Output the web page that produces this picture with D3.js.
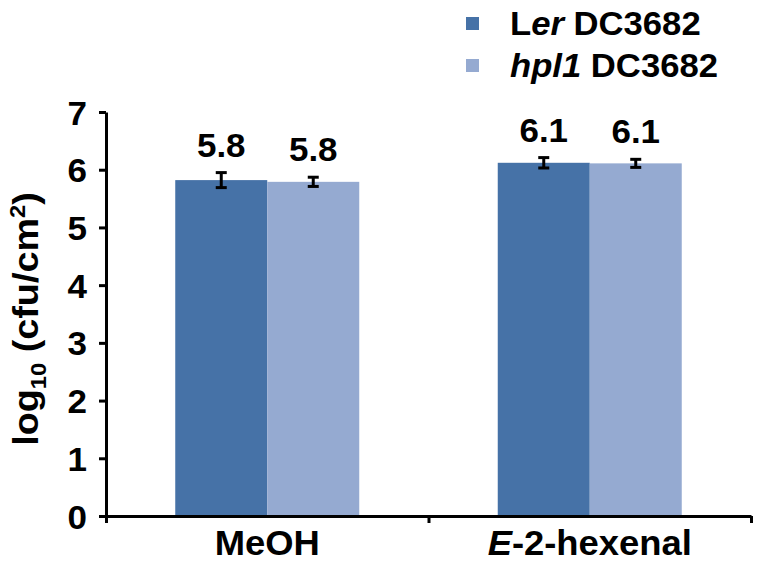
<!DOCTYPE html>
<html><head><meta charset="utf-8">
<script src="https://cdn.jsdelivr.net/npm/d3@7"></script>
<style>
html,body{margin:0;padding:0;background:#fff;}
text{font-family:"Liberation Sans",Arial,sans-serif;font-weight:bold;fill:#000;}
</style></head>
<body>
<svg id="chart" width="764" height="566"></svg>
<script>
const categories = ["MeOH", "E-2-hexenal"];
const seriesNames = ["Ler DC3682", "hpl1 DC3682"];
const serLer = [5.82, 6.12];
const serHpl = [5.79, 6.11];
const errLer = [0.13, 0.09];
const errHpl = [0.08, 0.07];
const valueLabels = [["5.8", "6.1"], ["5.8", "6.1"]];
const yTicks = [0, 1, 2, 3, 4, 5, 6, 7];
const colors = ["#4672a7", "#95aad1"];

(function () {
const svg = d3.select("#chart");
const mLeft = 106, mRight = 751, mTop = 112, mBottom = 516;
const y = d3.scaleLinear().domain([0, 7]).range([mBottom, mTop]);
const x0 = d3.scaleBand().domain(categories).range([mLeft, mRight]).paddingInner(0).paddingOuter(0);
const groupW = 184;
const x1 = d3.scaleBand().domain([0, 1]).range([0, groupW]);
const series = [serLer, serHpl];
const errs = [errLer, errHpl];

// bars
series.forEach((vals, s) => {
  svg.append("g").selectAll("rect").data(vals).join("rect")
    .attr("x", (d, i) => x0(categories[i]) + (x0.bandwidth() - groupW) / 2 + x1(s))
    .attr("width", x1.bandwidth())
    .attr("y", d => y(d))
    .attr("height", d => y(0) - y(d))
    .attr("fill", colors[s]);
});

// error bars + labels
series.forEach((vals, s) => {
  vals.forEach((v, i) => {
    const cx = x0(categories[i]) + (x0.bandwidth() - groupW) / 2 + x1(s) + x1.bandwidth() / 2;
    const e = errs[s][i];
    const g = svg.append("g").attr("stroke", "#000").attr("stroke-width", 3);
    g.append("line").attr("x1", cx).attr("x2", cx).attr("y1", y(v + e)).attr("y2", y(v - e));
    g.append("line").attr("x1", cx - 5.5).attr("x2", cx + 5.5).attr("y1", y(v + e)).attr("y2", y(v + e));
    g.append("line").attr("x1", cx - 5.5).attr("x2", cx + 5.5).attr("y1", y(v - e)).attr("y2", y(v - e));
    svg.append("text")
      .attr("transform", `translate(${cx},${y(v + e) - 16}) scale(1.06,1)`)
      .attr("text-anchor", "middle").attr("font-size", 33)
      .text(valueLabels[s][i]);
  });
});

// y axis
const yAxis = svg.append("g").attr("transform", `translate(${mLeft},0)`)
  .call(d3.axisLeft(y).tickValues(yTicks).tickSize(7).tickSizeOuter(0).tickFormat(d3.format("d")));
yAxis.attr("font-family", null).attr("font-size", null);
yAxis.select(".domain").attr("stroke", "#000").attr("stroke-width", 3);
yAxis.selectAll(".tick line").attr("stroke", "#000").attr("stroke-width", 3);
yAxis.selectAll(".tick text")
  .attr("x", null).attr("dy", null).attr("fill", "#000")
  .attr("font-size", 34).attr("text-anchor", "end")
  .attr("transform", `translate(-19,12) scale(1.03,1)`);

// x axis
const xl = d3.scaleLinear().domain([0, categories.length]).range([mLeft, mRight]);
const xAxis = svg.append("g").attr("transform", `translate(0,${mBottom})`)
  .call(d3.axisBottom(xl).tickValues(d3.range(categories.length + 1)).tickSize(7).tickSizeOuter(0).tickFormat(""));
xAxis.select(".domain").attr("stroke", "#000").attr("stroke-width", 3);
xAxis.selectAll(".tick line").attr("stroke", "#000").attr("stroke-width", 3);

categories.forEach((c, i) => {
  const cx = x0(c) + x0.bandwidth() / 2;
  const t = svg.append("text")
    .attr("transform", `translate(${cx},555) scale(1.04,1)`)
    .attr("text-anchor", "middle").attr("font-size", 35);
  if (c.startsWith("E-")) {
    t.append("tspan").attr("font-style", "italic").text("E");
    t.append("tspan").text(c.slice(1));
  } else {
    t.text(c);
  }
});

// y title
const yt = svg.append("text")
  .attr("transform", `translate(38,319) rotate(-90) scale(1.08,1)`)
  .attr("text-anchor", "middle").attr("font-size", 35);
yt.append("tspan").text("log");
yt.append("tspan").attr("font-size", 22).attr("dy", 8).text("10");
yt.append("tspan").attr("dy", -8).text(" (cfu/cm");
yt.append("tspan").attr("font-size", 22).attr("dy", -13).text("2");
yt.append("tspan").attr("dy", 13).text(")");

// legend
const legend = svg.append("g");
const legY = [17, 59];
seriesNames.forEach((n, s) => {
  legend.append("rect").attr("x", 466).attr("y", legY[s]).attr("width", 13).attr("height", 13).attr("fill", colors[s]);
  const t = legend.append("text")
    .attr("transform", `translate(510,${legY[s] + 18}) scale(1.05,1)`)
    .attr("font-size", 33);
  if (s === 0) {
    t.append("tspan").text("L");
    t.append("tspan").attr("font-style", "italic").text("er");
    t.append("tspan").text(" DC3682");
  } else {
    t.append("tspan").attr("font-style", "italic").text("hpl1");
    t.append("tspan").text(" DC3682");
  }
});
})();
</script>
</body></html>
